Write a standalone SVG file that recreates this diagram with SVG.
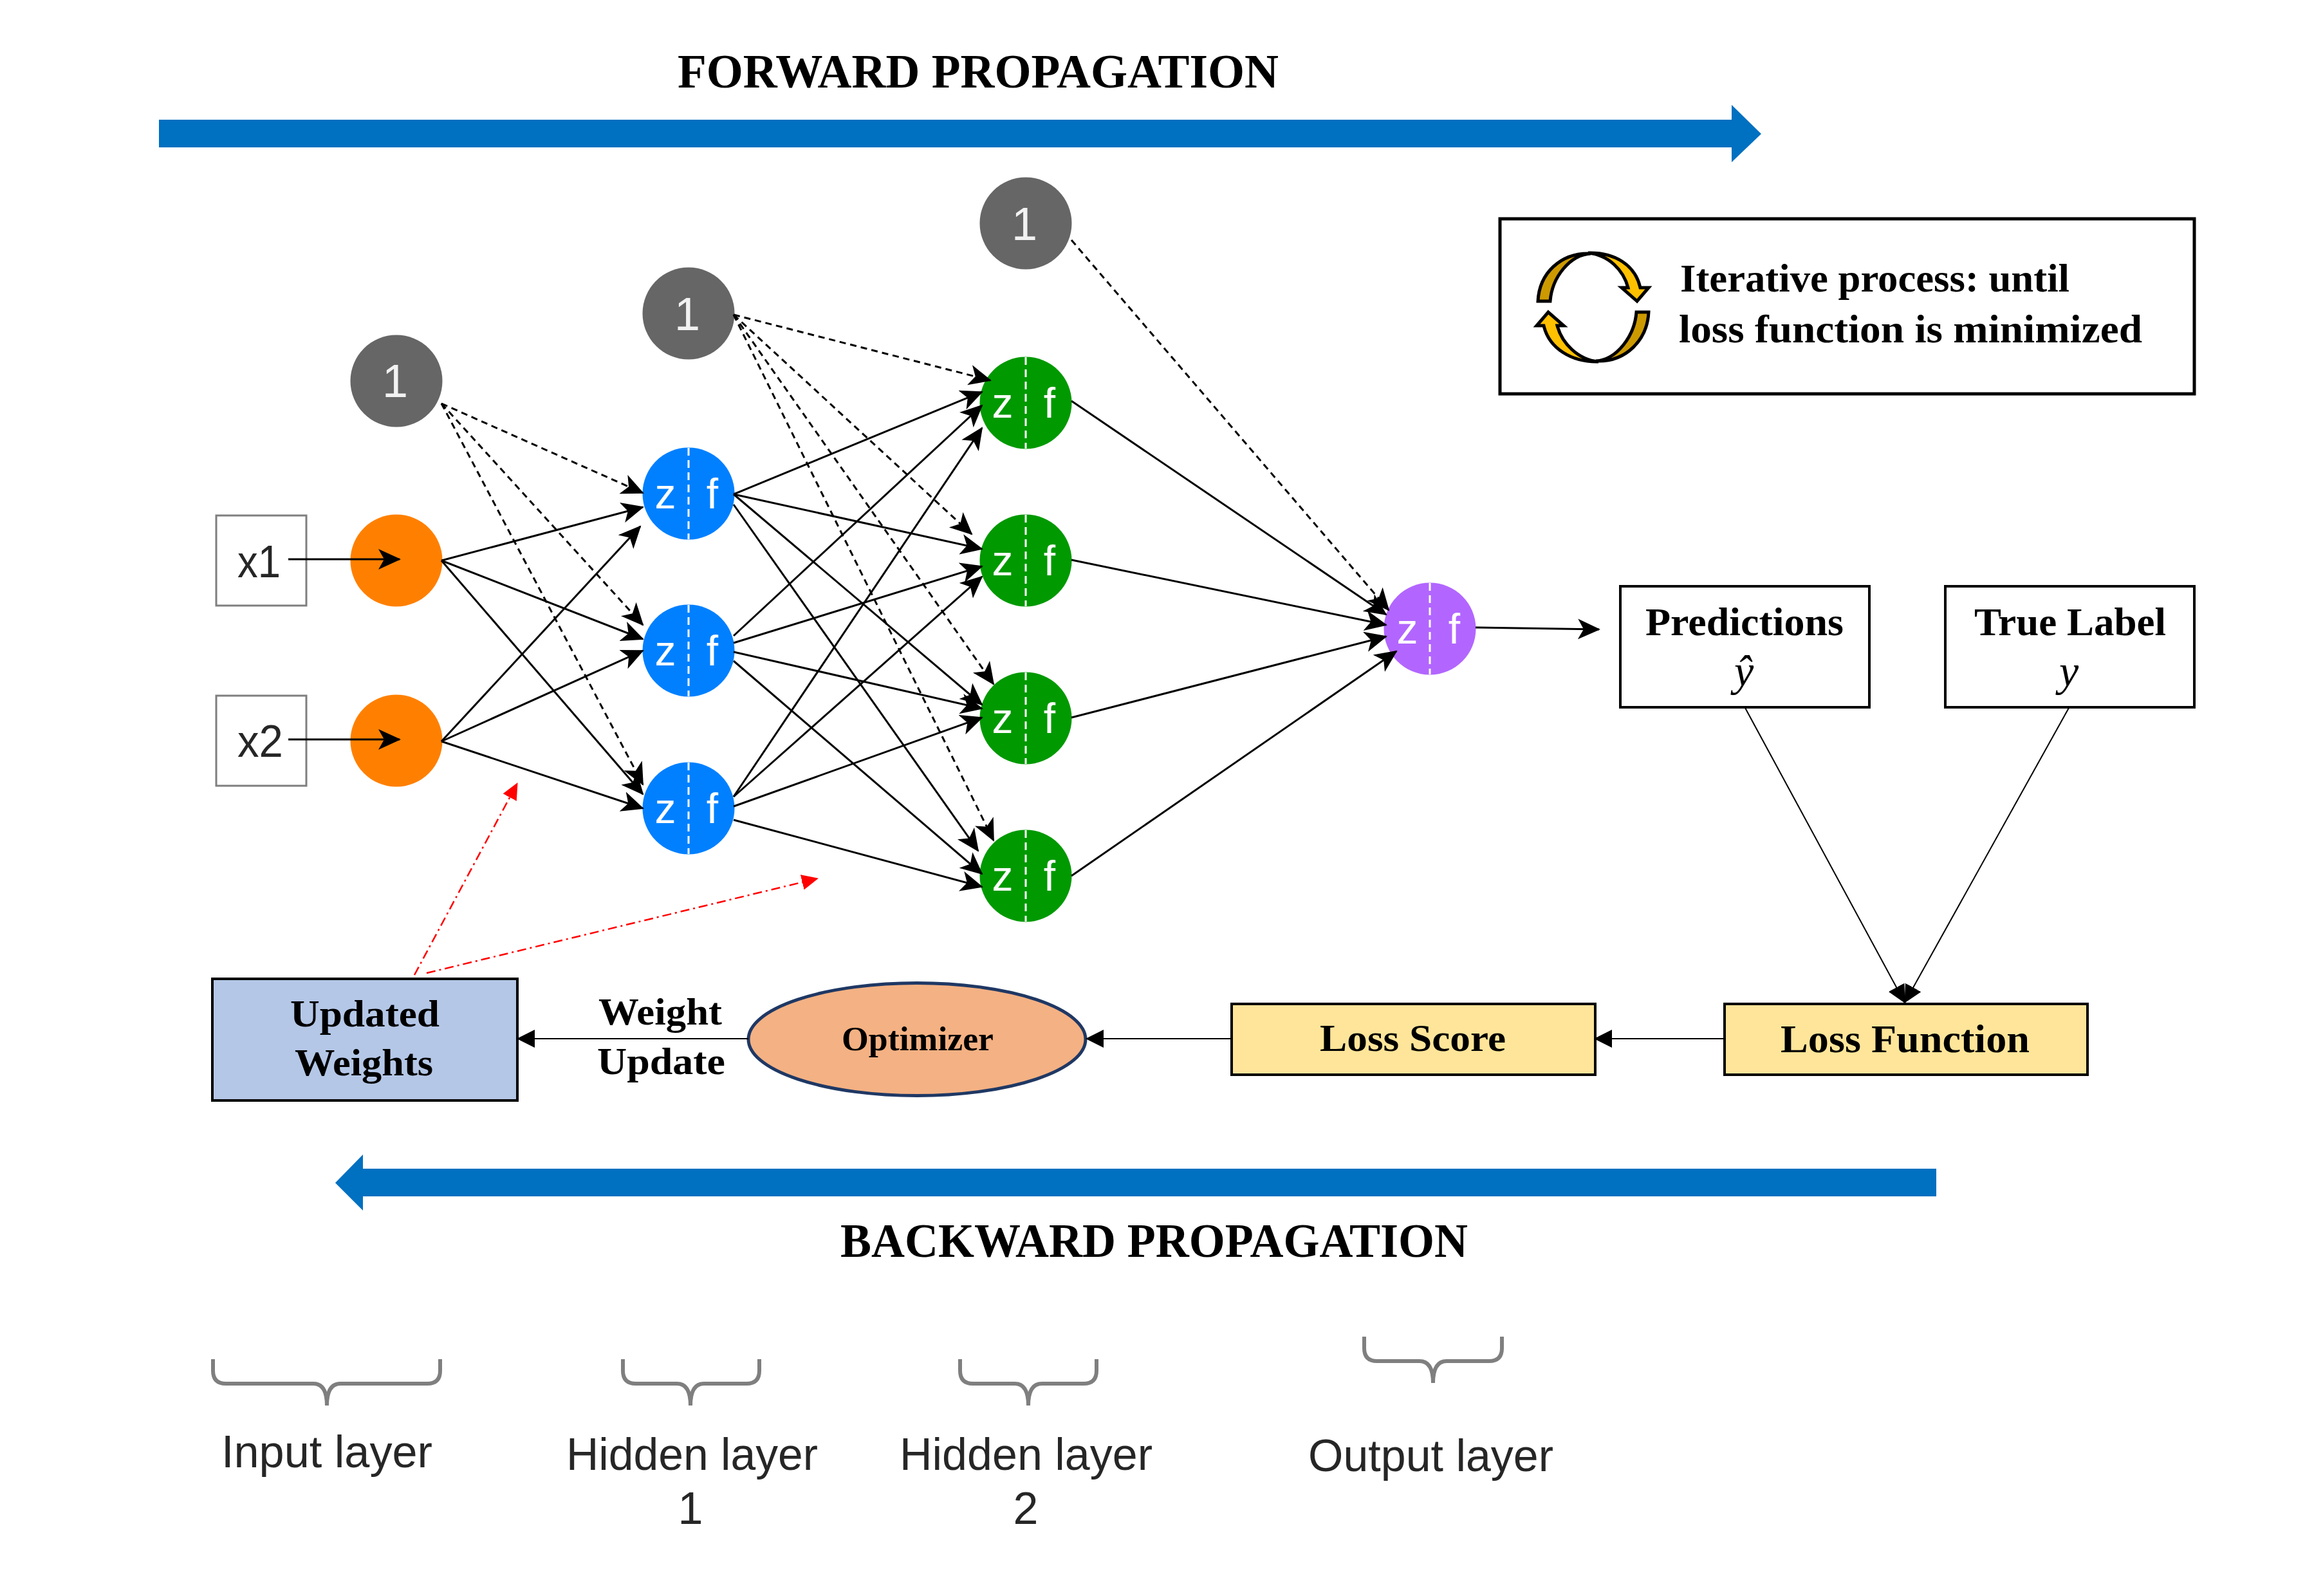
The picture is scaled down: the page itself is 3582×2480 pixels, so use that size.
<svg xmlns="http://www.w3.org/2000/svg" width="3582" height="2480" viewBox="0 0 3582 2480">
<style>
.s{font-family:"Liberation Serif","Times New Roman",serif;font-weight:700;fill:#000}
.a{font-family:"Liberation Sans",Arial,sans-serif;fill:#262626}
.zf{font-family:"Liberation Sans",Arial,sans-serif;font-size:66px;fill:#fff;text-anchor:middle}
.one{font-family:"Liberation Sans",Arial,sans-serif;font-size:72px;fill:#f2f2f2;text-anchor:middle}
.div{stroke:#fff;stroke-width:3;stroke-dasharray:12 7;fill:none}
.c{stroke:#000;stroke-width:3;fill:none;marker-end:url(#st)}
.d{stroke:#000;stroke-width:3;stroke-dasharray:10 7;fill:none;marker-end:url(#st)}
.t{stroke:#000;stroke-width:2;fill:none;marker-end:url(#tri)}
.r{stroke:#f00;stroke-width:2.5;stroke-dasharray:14 6 3 6;fill:none;marker-end:url(#red)}
.b{stroke:#7f7f7f;stroke-width:6;fill:none}
.box{stroke:#000;stroke-width:4}
</style>
<defs>
<marker id="st" markerUnits="userSpaceOnUse" markerWidth="40" markerHeight="34" refX="33" refY="16" orient="auto"><path d="M0,0 L35,16 L0,32 L9,16 Z" fill="#000"/></marker>
<marker id="tri" markerUnits="userSpaceOnUse" markerWidth="30" markerHeight="30" refX="27" refY="14" orient="auto"><path d="M0,0 L28,14 L0,28 Z" fill="#000"/></marker>
<marker id="red" markerUnits="userSpaceOnUse" markerWidth="30" markerHeight="28" refX="25" refY="12" orient="auto"><path d="M0,0 L26,12 L0,24 Z" fill="#f00"/></marker>
</defs>
<rect width="3582" height="2480" fill="#fff"/>

<text id="forward-label" class="s" x="1053" y="136" font-size="74" textLength="934" lengthAdjust="spacingAndGlyphs">FORWARD PROPAGATION</text>
<path id="forward-arrow" d="M247,186 H2691 V163 L2737,208 L2691,252 V229 H247 Z" fill="#0070c0"/>
<path id="backward-arrow" d="M3009,1816 H564 V1794 L521,1838 L564,1881 V1859 H3009 Z" fill="#0070c0"/>
<text id="backward-label" class="s" x="1306" y="1953" font-size="74" textLength="975" lengthAdjust="spacingAndGlyphs">BACKWARD PROPAGATION</text>

<g id="legend">
<rect x="2331" y="340" width="1079" height="272" fill="#fff" stroke="#000" stroke-width="5"/>
<g stroke="#000" stroke-width="5" stroke-linejoin="miter">
<path d="M2390,468 L2409,468 C2412,430 2440,396 2472,394 C2425,392 2392,425 2390,468 Z" fill="#cc9a00"/>
<path d="M2468,393 C2510,392 2541,412 2549,447 L2562,447 L2544,468 L2520,447 L2530,447 C2523,420 2500,396 2468,393 Z" fill="#ffc000"/>
<path d="M2562,485 L2543,485 C2540,523 2512,559 2480,561 C2527,563 2560,528 2562,485 Z" fill="#cc9a00"/>
<path d="M2484,562 C2442,563 2407,541 2399,506 L2388,506 L2406,485 L2430,506 L2420,506 C2427,533 2452,559 2484,562 Z" fill="#ffc000"/>
</g>
<text class="s" x="2611" y="453" font-size="62" textLength="605" lengthAdjust="spacingAndGlyphs">Iterative process: until</text>
<text class="s" x="2609" y="532" font-size="62" textLength="720" lengthAdjust="spacingAndGlyphs">loss function is minimized</text>
</g>

<g id="x1"><rect x="336" y="801" width="140" height="140" fill="#fff" stroke="#7f7f7f" stroke-width="3"/><text class="a" x="369" y="897" font-size="70" textLength="67" lengthAdjust="spacingAndGlyphs">x1</text></g>
<g id="x2"><rect x="336" y="1081" width="140" height="140" fill="#fff" stroke="#7f7f7f" stroke-width="3"/><text class="a" x="369" y="1176" font-size="70" textLength="71" lengthAdjust="spacingAndGlyphs">x2</text></g>

<g id="bias-1"><circle cx="616" cy="592" r="71.5" fill="#666"/><text class="one" x="614" y="617">1</text></g>
<g id="bias-2"><circle cx="1070" cy="487" r="71.5" fill="#666"/><text class="one" x="1068" y="513">1</text></g>
<g id="bias-3"><circle cx="1594" cy="347" r="71.5" fill="#666"/><text class="one" x="1592" y="373">1</text></g>

<g id="input-1"><circle cx="616" cy="871" r="71.5" fill="#ff8000"/></g>
<g id="input-2"><circle cx="616" cy="1151" r="71.5" fill="#ff8000"/></g>

<g id="h1-1"><circle cx="1070" cy="767" r="71.5" fill="#0080ff"/><path class="div" d="M1070,696 V838"/><text class="zf" x="1034" y="790">z</text><text class="zf" x="1107" y="790">f</text></g>
<g id="h1-2"><circle cx="1070" cy="1011" r="71.5" fill="#0080ff"/><path class="div" d="M1070,940 V1082"/><text class="zf" x="1034" y="1034">z</text><text class="zf" x="1107" y="1034">f</text></g>
<g id="h1-3"><circle cx="1070" cy="1256" r="71.5" fill="#0080ff"/><path class="div" d="M1070,1185 V1327"/><text class="zf" x="1034" y="1279">z</text><text class="zf" x="1107" y="1279">f</text></g>

<g id="h2-1"><circle cx="1594" cy="626" r="71.5" fill="#009900"/><path class="div" d="M1594,555 V697"/><text class="zf" x="1558" y="649">z</text><text class="zf" x="1631" y="649">f</text></g>
<g id="h2-2"><circle cx="1594" cy="871" r="71.5" fill="#009900"/><path class="div" d="M1594,800 V942"/><text class="zf" x="1558" y="894">z</text><text class="zf" x="1631" y="894">f</text></g>
<g id="h2-3"><circle cx="1594" cy="1116" r="71.5" fill="#009900"/><path class="div" d="M1594,1045 V1187"/><text class="zf" x="1558" y="1139">z</text><text class="zf" x="1631" y="1139">f</text></g>
<g id="h2-4"><circle cx="1594" cy="1361" r="71.5" fill="#009900"/><path class="div" d="M1594,1290 V1432"/><text class="zf" x="1558" y="1384">z</text><text class="zf" x="1631" y="1384">f</text></g>

<g id="output"><circle cx="2222" cy="977" r="71.5" fill="#b266ff"/><path class="div" d="M2222,906 V1048"/><text class="zf" x="2187" y="1000">z</text><text class="zf" x="2260" y="1000">f</text></g>

<g id="predictions"><rect class="box" x="2518" y="911" width="387" height="188" fill="#fff" stroke-width="3"/><text class="s" x="2557" y="987" font-size="62" textLength="308" lengthAdjust="spacingAndGlyphs">Predictions</text><text x="2710" y="1066" font-size="68" font-family="Liberation Serif,serif" font-style="italic" text-anchor="middle">ŷ</text></g>
<g id="true-label"><rect class="box" x="3023" y="911" width="387" height="188" fill="#fff" stroke-width="3"/><text class="s" x="3068" y="987" font-size="62" textLength="298" lengthAdjust="spacingAndGlyphs">True Label</text><text x="3215" y="1066" font-size="68" font-family="Liberation Serif,serif" font-style="italic" text-anchor="middle">y</text></g>
<g id="loss-function"><rect class="box" x="2680" y="1560" width="564" height="110" fill="#ffe599"/><text class="s" x="2767" y="1635" font-size="62" textLength="387" lengthAdjust="spacingAndGlyphs">Loss Function</text></g>
<g id="loss-score"><rect class="box" x="1914" y="1560" width="565" height="110" fill="#ffe599"/><text class="s" x="2051" y="1633" font-size="60" textLength="289" lengthAdjust="spacingAndGlyphs">Loss Score</text></g>
<g id="optimizer"><ellipse cx="1425" cy="1615" rx="262" ry="87.5" fill="#f4b183" stroke="#1f3864" stroke-width="5"/><text class="s" x="1308" y="1632" font-size="52" textLength="236" lengthAdjust="spacingAndGlyphs">Optimizer</text></g>
<g id="updated-weights"><rect class="box" x="330" y="1521" width="474" height="189" fill="#b4c7e7"/><text class="s" x="451" y="1595" font-size="60" textLength="232" lengthAdjust="spacingAndGlyphs">Updated</text><text class="s" x="458" y="1671" font-size="60" textLength="215" lengthAdjust="spacingAndGlyphs">Weights</text></g>
<text id="weight-update-1" class="s" x="930" y="1592" font-size="60" textLength="192" lengthAdjust="spacingAndGlyphs">Weight</text>
<text id="weight-update-2" class="s" x="928" y="1669" font-size="60" textLength="199" lengthAdjust="spacingAndGlyphs">Update</text>

<g id="connectors">
<path class="c" d="M448,869 H621"/>
<path class="c" d="M448,1149 H621"/>
<path class="c" d="M686,871 L999,788"/><path class="c" d="M686,871 L999,993"/><path class="c" d="M686,871 L999,1234"/>
<path class="c" d="M686,1152 L995,818"/><path class="c" d="M686,1152 L999,1011"/><path class="c" d="M686,1152 L999,1256"/>
<path class="c" d="M1140,768 L1526,609"/><path class="c" d="M1140,768 L1526,853"/><path class="c" d="M1140,768 L1526,1095"/><path class="c" d="M1140,784 L1520,1322"/>
<path class="c" d="M1140,988 L1526,630"/><path class="c" d="M1140,999 L1526,880"/><path class="c" d="M1140,1013 L1526,1101"/><path class="c" d="M1140,1027 L1526,1358"/>
<path class="c" d="M1140,1238 L1526,665"/><path class="c" d="M1140,1238 L1526,896"/><path class="c" d="M1140,1253 L1526,1115"/><path class="c" d="M1140,1274 L1526,1378"/>
<path class="d" d="M686,627 L999,766"/><path class="d" d="M686,627 L999,971"/><path class="d" d="M686,627 L999,1219"/>
<path class="d" d="M1140,489 L1539,591"/><path class="d" d="M1140,489 L1510,830"/><path class="d" d="M1140,489 L1544,1063"/><path class="d" d="M1140,489 L1544,1306"/>
<path class="d" d="M1665,373 L2158,948"/>
<path class="c" d="M1665,623 L2154,955"/><path class="c" d="M1665,870 L2154,971"/><path class="c" d="M1665,1115 L2154,989"/><path class="c" d="M1665,1361 L2170,1012"/>
<path class="c" d="M2293,975 L2485,978"/>
<path class="t" d="M2712,1100 L2960,1558"/>
<path class="t" d="M3215,1100 L2960,1558"/>
<path class="t" d="M2680,1614 H2478"/>
<path class="t" d="M1914,1614 H1688"/>
<path class="t" d="M1163,1614 H804"/>
<path class="r" d="M644,1515 L804,1217"/>
<path class="r" d="M663,1512 L1271,1365"/>
</g>

<g id="brace-input"><path class="b" d="M331,2112 V2130 Q331,2150 351,2150 H487 Q508,2150 508,2184 Q508,2150 529,2150 H664 Q684,2150 684,2130 V2112"/><text class="a" x="344" y="2280" font-size="70" textLength="328" lengthAdjust="spacingAndGlyphs">Input layer</text></g>
<g id="brace-h1"><path class="b" d="M968,2112 V2130 Q968,2150 988,2150 H1052 Q1073,2150 1073,2184 Q1073,2150 1094,2150 H1160 Q1180,2150 1180,2130 V2112"/><text class="a" x="880" y="2284" font-size="70" textLength="391" lengthAdjust="spacingAndGlyphs">Hidden layer</text><text class="a" x="1073" y="2368" font-size="70" text-anchor="middle">1</text></g>
<g id="brace-h2"><path class="b" d="M1492,2112 V2130 Q1492,2150 1512,2150 H1577 Q1598,2150 1598,2184 Q1598,2150 1619,2150 H1684 Q1704,2150 1704,2130 V2112"/><text class="a" x="1398" y="2284" font-size="70" textLength="393" lengthAdjust="spacingAndGlyphs">Hidden layer</text><text class="a" x="1594" y="2368" font-size="70" text-anchor="middle">2</text></g>
<g id="brace-output"><path class="b" d="M2120,2077 V2095 Q2120,2115 2140,2115 H2206 Q2227,2115 2227,2149 Q2227,2115 2248,2115 H2314 Q2334,2115 2334,2095 V2077"/><text class="a" x="2033" y="2286" font-size="70" textLength="381" lengthAdjust="spacingAndGlyphs">Output layer</text></g>
</svg>
